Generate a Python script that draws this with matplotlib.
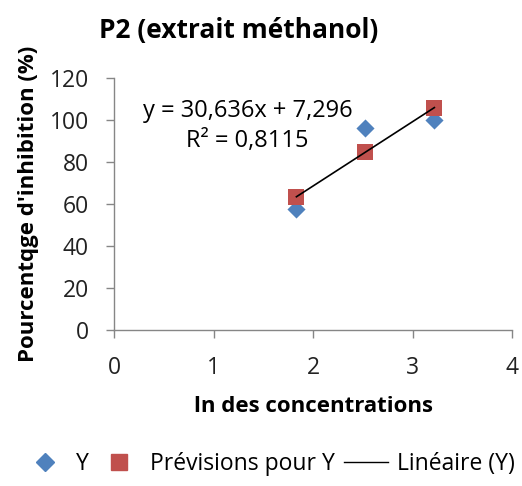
import matplotlib
matplotlib.use("Agg")
import matplotlib.pyplot as plt
from matplotlib.lines import Line2D
import numpy as np

plt.rcParams['font.family'] = ['Open Sans', 'DejaVu Sans']

x_vals = [1.833, 2.526, 3.219]
y_vals = [57.6, 96.3, 100.1]
slope = 30.636
intercept = 7.296
pred_vals = [slope * x + intercept for x in x_vals]

x_ticks = [0, 1, 2, 3, 4]
y_ticks = [0, 20, 40, 60, 80, 100, 120]

fig = plt.figure(figsize=(5.22, 4.86), dpi=100)
ax = fig.add_axes([0.2184, 0.321, 0.7626, 0.5185])

ax.plot([x_vals[0], x_vals[-1]], [pred_vals[0], pred_vals[-1]], color='black', lw=1.2, zorder=3)
ax.scatter(x_vals, y_vals, marker='D', s=85, color='#4F81BD', linewidths=0, zorder=2)
ax.scatter(x_vals, pred_vals, marker='s', s=125, color='#C0504D', linewidths=0, zorder=2)

ax.set_xlim(0, 4)
ax.set_ylim(0, 120)
ax.set_xticks(x_ticks)
ax.set_yticks(y_ticks)
for s in ['top', 'right']:
    ax.spines[s].set_visible(False)
for s in ['left', 'bottom']:
    ax.spines[s].set_color('#868686')
    ax.spines[s].set_linewidth(1)
ax.tick_params(colors='#868686', labelcolor='#222222', labelsize=16.5, length=6, width=1, direction='out')
ax.tick_params(axis='x', pad=13)
ax.tick_params(axis='y', pad=12)

ax.set_xlabel("ln des concentrations", fontsize=16, fontweight='bold', labelpad=11)
ax.set_ylabel("Pourcentqge d'inhibition (%)", fontsize=16, fontweight='bold', labelpad=8)
fig.text(0.458, 0.938, "P2 (extrait méthanol)", ha='center', va='center', fontsize=19, fontweight='bold')

ax.text(1.34, 97, "y = 30,636x + 7,296\nR² = 0,8115", ha='center', va='center', fontsize=17, linespacing=1.35)

handles = [
    Line2D([], [], marker='D', color='#4F81BD', ls='none', markersize=9),
    Line2D([], [], marker='s', color='#C0504D', ls='none', markersize=11),
    Line2D([], [], color='black', lw=1),
]
fig.legend(handles, ['Y', 'Prévisions pour Y', 'Linéaire (Y)'], loc='center', bbox_to_anchor=(0.515, 0.045),
           ncol=3, frameon=False, fontsize=16.5, handlelength=1.9, columnspacing=0.4, handletextpad=0.4)

fig.savefig('out.png', dpi=100)
